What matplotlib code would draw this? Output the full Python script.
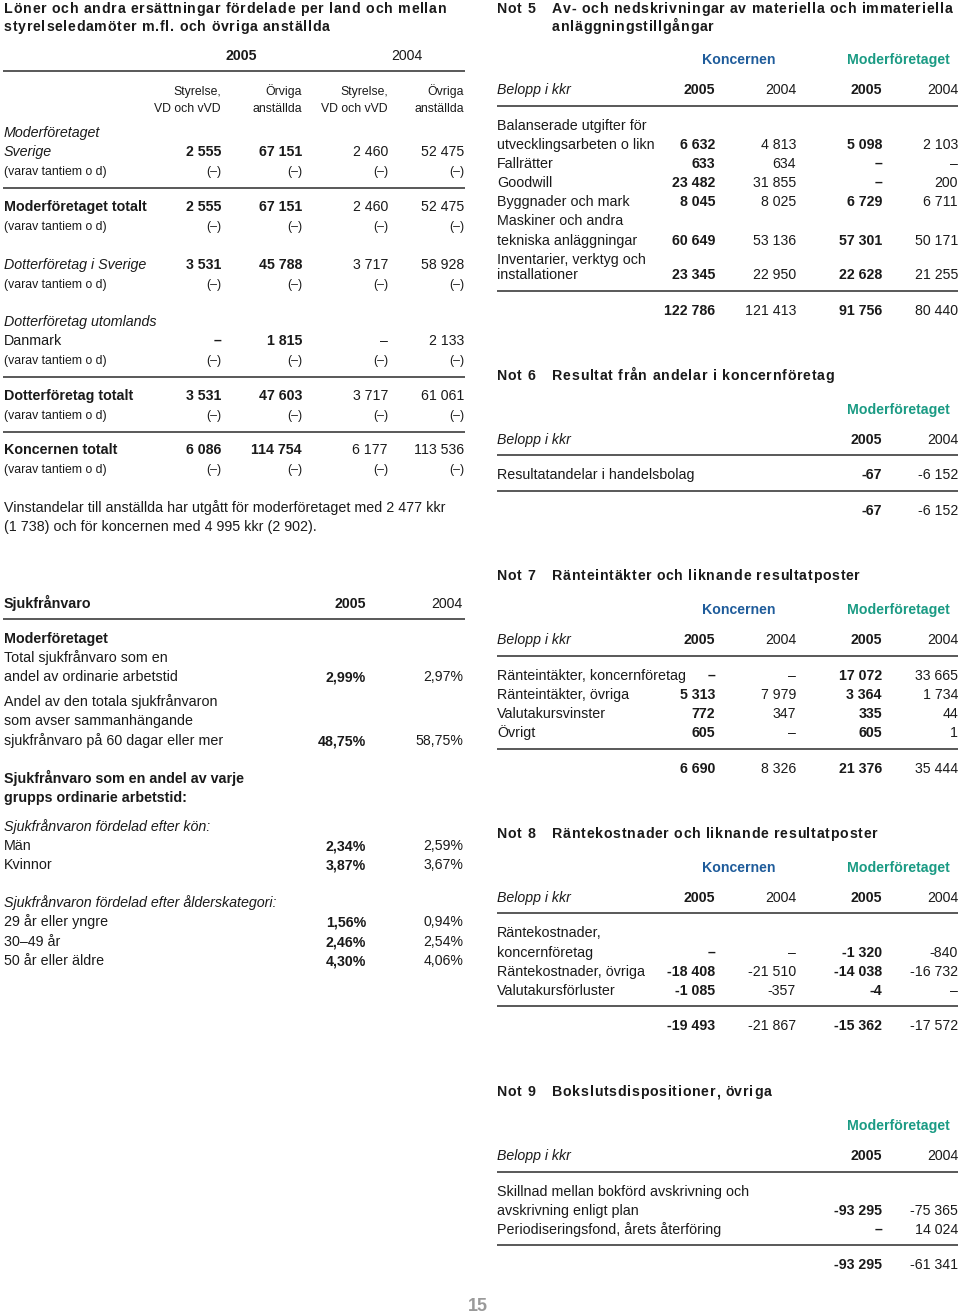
import matplotlib
matplotlib.use("Agg")
import matplotlib.pyplot as plt
from matplotlib.font_manager import FontProperties, findfont, get_font
try:
    from matplotlib.ft2font import LoadFlags
    NOHINT = LoadFlags.NO_HINTING
except Exception:
    NOHINT = 2

# ---------------------------------------------------------------- data
# Löner och andra ersättningar
pay_title = ["Löner och andra ersättningar fördelade per land och mellan",
             "styrelseledamöter m.fl. och övriga anställda"]
pay_years = ["2005", "2004"]
pay_col_heads = [("Styrelse,", "VD och vVD"), ("Örviga", "anställda"),
                 ("Styrelse,", "VD och vVD"), ("Övriga", "anställda")]
pay_groups = ["Moderföretaget", "Dotterföretag utomlands"]
pay_labels = ["Sverige", "Moderföretaget totalt", "Dotterföretag i Sverige",
              "Danmark", "Dotterföretag totalt", "Koncernen totalt"]
pay_board_2005 = ["2 555", "2 555", "3 531", "–", "3 531", "6 086"]
pay_staff_2005 = ["67 151", "67 151", "45 788", "1 815", "47 603", "114 754"]
pay_board_2004 = ["2 460", "2 460", "3 717", "–", "3 717", "6 177"]
pay_staff_2004 = ["52 475", "52 475", "58 928", "2 133", "61 061", "113 536"]
pay_sub_label = "(varav tantiem o d)"
pay_sub_value = "(–)"
pay_note = ["Vinstandelar till anställda har utgått för moderföretaget med 2 477 kkr",
            "(1 738) och för koncernen med 4 995 kkr (2 902)."]

# Sjukfrånvaro
sick_head = ["Sjukfrånvaro", "2005", "2004"]
sick_main_labels = [["Total sjukfrånvaro som en", "andel av ordinarie arbetstid"],
                    ["Andel av den totala sjukfrånvaron", "som avser sammanhängande",
                     "sjukfrånvaro på 60 dagar eller mer"]]
sick_main_2005 = ["2,99%", "48,75%"]
sick_main_2004 = ["2,97%", "58,75%"]
sick_group_head = ["Sjukfrånvaro som en andel av varje", "grupps ordinarie arbetstid:"]
sick_sex_head = "Sjukfrånvaron fördelad efter kön:"
sick_sex_labels = ["Män", "Kvinnor"]
sick_sex_2005 = ["2,34%", "3,87%"]
sick_sex_2004 = ["2,59%", "3,67%"]
sick_age_head = "Sjukfrånvaron fördelad efter ålderskategori:"
sick_age_labels = ["29 år eller yngre", "30–49 år", "50 år eller äldre"]
sick_age_2005 = ["1,56%", "2,46%", "4,30%"]
sick_age_2004 = ["0,94%", "2,54%", "4,06%"]

groups = ["Koncernen", "Moderföretaget"]
unit_label = "Belopp i kkr"
years4 = ["2005", "2004", "2005", "2004"]

# Not 5
n5_title = ["Av- och nedskrivningar av materiella och immateriella", "anläggningstillgångar"]
n5_labels = [["Balanserade utgifter för", "utvecklingsarbeten o likn"], ["Fallrätter"],
             ["Goodwill"], ["Byggnader och mark"],
             ["Maskiner och andra", "tekniska anläggningar"],
             ["Inventarier, verktyg och", "installationer"]]
n5_k2005 = ["6 632", "633", "23 482", "8 045", "60 649", "23 345"]
n5_k2004 = ["4 813", "634", "31 855", "8 025", "53 136", "22 950"]
n5_m2005 = ["5 098", "–", "–", "6 729", "57 301", "22 628"]
n5_m2004 = ["2 103", "–", "200", "6 711", "50 171", "21 255"]
n5_total = ["122 786", "121 413", "91 756", "80 440"]

# Not 6
n6_title = ["Resultat från andelar i koncernföretag"]
n6_labels = [["Resultatandelar i handelsbolag"]]
n6_m2005 = ["-67"]
n6_m2004 = ["-6 152"]
n6_total = ["-67", "-6 152"]

# Not 7
n7_title = ["Ränteintäkter och liknande resultatposter"]
n7_labels = [["Ränteintäkter, koncernföretag"], ["Ränteintäkter, övriga"],
             ["Valutakursvinster"], ["Övrigt"]]
n7_k2005 = ["–", "5 313", "772", "605"]
n7_k2004 = ["–", "7 979", "347", "–"]
n7_m2005 = ["17 072", "3 364", "335", "605"]
n7_m2004 = ["33 665", "1 734", "44", "1"]
n7_total = ["6 690", "8 326", "21 376", "35 444"]

# Not 8
n8_title = ["Räntekostnader och liknande resultatposter"]
n8_labels = [["Räntekostnader,", "koncernföretag"], ["Räntekostnader, övriga"],
             ["Valutakursförluster"]]
n8_k2005 = ["–", "-18 408", "-1 085"]
n8_k2004 = ["–", "-21 510", "-357"]
n8_m2005 = ["-1 320", "-14 038", "-4"]
n8_m2004 = ["-840", "-16 732", "–"]
n8_total = ["-19 493", "-21 867", "-15 362", "-17 572"]

# Not 9
n9_title = ["Bokslutsdispositioner, övriga"]
n9_labels = [["Skillnad mellan bokförd avskrivning och", "avskrivning enligt plan"],
             ["Periodiseringsfond, årets återföring"]]
n9_m2005 = ["-93 295", "–"]
n9_m2004 = ["-75 365", "14 024"]
n9_total = ["-93 295", "-61 341"]

page_number = "15"

# ---------------------------------------------------------------- style
FAMILY = ["Liberation Sans", "DejaVu Sans"]
INK = "#1a1a1a"
RULE = "#3c3c3c"
BLUE = "#1f5c9b"
TEAL = "#1b9b84"
GREY = "#9a9a9a"
NUM = 10.2
LAB = 10.3
SMALL = 8.8
TRACK = 0.68
PX = 100 / 72

fig = plt.figure(figsize=(9.6, 13.13), dpi=100)
ax = fig.add_axes([0, 0, 1, 1])
ax.set_xlim(0, 960)
ax.set_ylim(1313, 0)
ax.axis("off")


def T(x, y, s, ha="left", weight="normal", style="normal", size=LAB, color=INK):
    ax.text(x, y + 0.358 * size * PX, s, ha=ha, va="baseline", fontsize=size,
            fontweight=weight, fontstyle=style, color=color, family=FAMILY)


def tracked(x, y, s, size=NUM, weight="bold", track=TRACK, color=INK):
    fp = FontProperties(family="Liberation Sans", weight=weight, size=size)
    font = get_font(findfont(fp))
    font.set_size(size, 72)
    pos = x
    base = y + 0.358 * size * PX
    for ch in s:
        g = font.load_char(ord(ch), flags=NOHINT)
        if ch != " ":
            ax.text(pos, base, ch, fontproperties=fp, ha="left", va="baseline", color=color)
        pos += g.linearHoriAdvance / 65536 * PX + track
    font.set_size(size, 100)


def hline(x0, x1, y, lw=1.2):
    ax.plot([x0, x1], [y, y], color=RULE, lw=lw, solid_capstyle="butt")


def values_row(y, vals, xs, bold):
    for v, x, b in zip(vals, xs, bold):
        T(x, y, v, ha="right", weight="bold" if b else "normal", size=NUM)


# ---------------------------------------------------------------- left: löner
tracked(4, 8, pay_title[0])
tracked(4, 26, pay_title[1])
T(241.5, 55, pay_years[0], ha="center", weight="bold", size=NUM)
T(406.5, 55, pay_years[1], ha="center", size=NUM)
hline(3, 465, 71)
LC = [221, 302, 388, 464]
for x, (a, b) in zip(LC, pay_col_heads):
    T(x, 91, a, ha="right", size=SMALL)
    T(x, 108, b, ha="right", size=SMALL)

T(4, 132, pay_groups[0], style="italic")
T(4, 321, pay_groups[1], style="italic")
row_y = [151, 206, 264, 340, 395, 449]
row_style = [("normal", "italic"), ("bold", "normal"), ("normal", "italic"),
             ("normal", "normal"), ("bold", "normal"), ("bold", "normal")]
for i, y in enumerate(row_y):
    w, st = row_style[i]
    T(4, y, pay_labels[i], weight=w, style=st)
    values_row(y, [pay_board_2005[i], pay_staff_2005[i], pay_board_2004[i], pay_staff_2004[i]],
               LC, [True, True, False, False])
    T(4, y + 20, pay_sub_label, size=SMALL)
    for x in LC:
        T(x, y + 20, pay_sub_value, ha="right", size=SMALL)
for y in [188, 377, 432]:
    hline(3, 465, y)
T(4, 507, pay_note[0])
T(4, 526, pay_note[1])

# ---------------------------------------------------------------- left: sjukfrånvaro
T(4, 603, sick_head[0], weight="bold")
T(366, 603, sick_head[1], ha="right", weight="bold", size=NUM)
T(463, 603, sick_head[2], ha="right", size=NUM)
hline(3, 465, 619)
T(4, 638, "Moderföretaget", weight="bold")
main_ys = [[657, 676], [701, 720, 740]]
for i, ys in enumerate(main_ys):
    for line, y in zip(sick_main_labels[i], ys):
        T(4, y, line)
    values_row(ys[-1], [sick_main_2005[i], sick_main_2004[i]], [366, 463], [True, False])
T(4, 778, sick_group_head[0], weight="bold")
T(4, 797, sick_group_head[1], weight="bold")
T(4, 826, sick_sex_head, style="italic")
for i, y in enumerate([845, 864]):
    T(4, y, sick_sex_labels[i])
    values_row(y, [sick_sex_2005[i], sick_sex_2004[i]], [366, 463], [True, False])
T(4, 902, sick_age_head, style="italic")
for i, y in enumerate([921, 941, 960]):
    T(4, y, sick_age_labels[i])
    values_row(y, [sick_age_2005[i], sick_age_2004[i]], [366, 463], [True, False])

# ---------------------------------------------------------------- right notes
RX = 497
RC = [715, 796, 882, 958]
B4 = [True, False, True, False]


def note(num, title, y_title, y_grp, y_head, y_rule1, labels, label_ys, cols, y_rule2,
         totals, y_total, both=True):
    tracked(RX, y_title, "Not %d" % num)
    for k, t in enumerate(title):
        tracked(552, y_title + 18 * k, t)
    xs = RC if both else RC[2:]
    bold = B4 if both else B4[2:]
    if both:
        T(739, y_grp, groups[0], ha="center", weight="bold", color=BLUE, size=NUM)
    T(898, y_grp, groups[1], ha="center", weight="bold", color=TEAL, size=NUM)
    T(RX, y_head, unit_label, style="italic", size=NUM)
    values_row(y_head, years4 if both else years4[2:], xs, bold)
    hline(RX, 958, y_rule1)
    for i, ys in enumerate(label_ys):
        for line, y in zip(labels[i], ys):
            T(RX, y, line)
        values_row(ys[-1], [c[i] for c in cols], xs, bold)
    hline(RX, 958, y_rule2)
    values_row(y_total, totals, xs, bold)


note(5, n5_title, 8, 59, 89, 106, n5_labels,
     [[125, 144], [163], [182], [201], [220, 240], [259, 274]],
     [n5_k2005, n5_k2004, n5_m2005, n5_m2004], 291, n5_total, 310)
note(6, n6_title, 375, 409, 439, 455, n6_labels, [[474]],
     [n6_m2005, n6_m2004], 491, n6_total, 510, both=False)
note(7, n7_title, 575, 609, 639, 656, n7_labels, [[675], [694], [713], [732]],
     [n7_k2005, n7_k2004, n7_m2005, n7_m2004], 749, n7_total, 768)
note(8, n8_title, 833, 867, 897, 913, n8_labels, [[932, 952], [971], [990]],
     [n8_k2005, n8_k2004, n8_m2005, n8_m2004], 1006, n8_total, 1025)
note(9, n9_title, 1091, 1125, 1155, 1172, n9_labels, [[1191, 1210], [1229]],
     [n9_m2005, n9_m2004], 1245, n9_total, 1264, both=False)

T(478, 1305, page_number, ha="center", weight="bold", size=13, color=GREY)

fig.savefig("out.png", dpi=100, facecolor="white")
